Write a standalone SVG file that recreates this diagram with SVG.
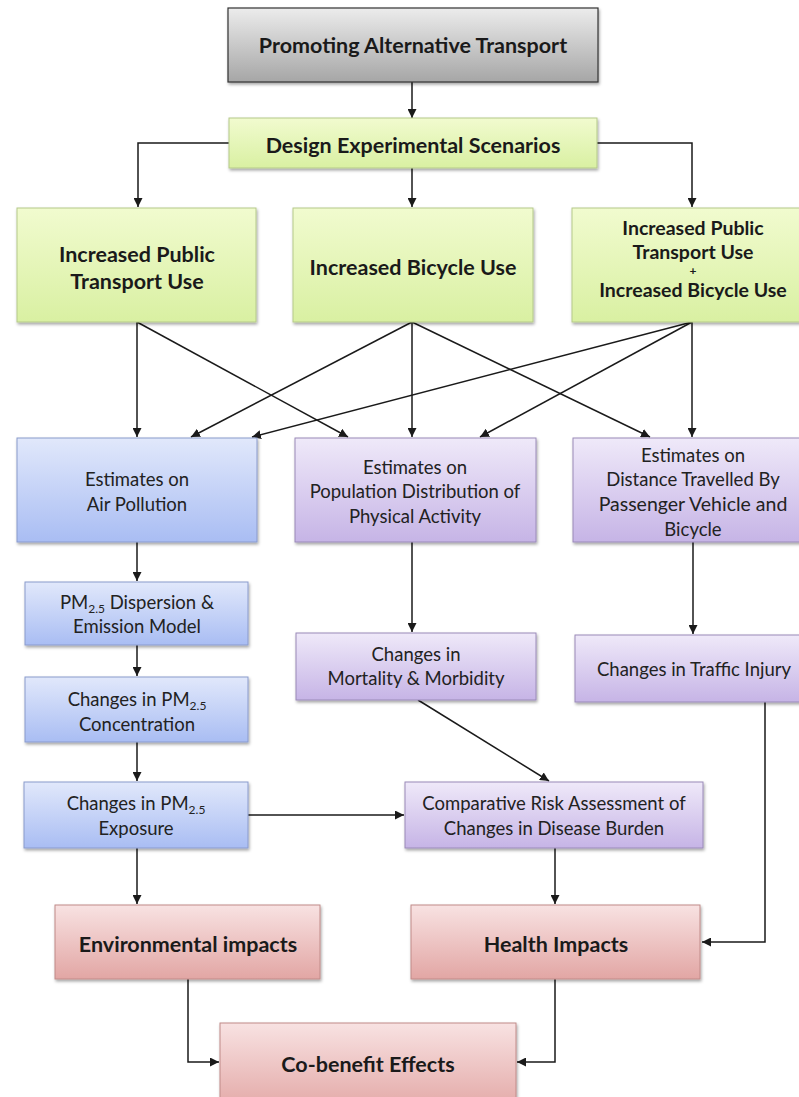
<svg xmlns="http://www.w3.org/2000/svg" width="799" height="1097" viewBox="0 0 799 1097">
<defs>
<linearGradient id="gGray" x1="0" y1="0" x2="0" y2="1"><stop offset="0" stop-color="#ececec"/><stop offset="1" stop-color="#a6a6a6"/></linearGradient>
<linearGradient id="gGreen" x1="0" y1="0" x2="0" y2="1"><stop offset="0" stop-color="#f1fbcf"/><stop offset="1" stop-color="#d9f0a2"/></linearGradient>
<linearGradient id="gBlue" x1="0" y1="0" x2="0" y2="1"><stop offset="0" stop-color="#e1e8fb"/><stop offset="1" stop-color="#a9bdf3"/></linearGradient>
<linearGradient id="gPurple" x1="0" y1="0" x2="0" y2="1"><stop offset="0" stop-color="#efe9f9"/><stop offset="1" stop-color="#c6b4e6"/></linearGradient>
<linearGradient id="gRed" x1="0" y1="0" x2="0" y2="1"><stop offset="0" stop-color="#f8e2e2"/><stop offset="1" stop-color="#e2a6a4"/></linearGradient>
<filter id="sh" x="-10%" y="-10%" width="120%" height="130%"><feDropShadow dx="1" dy="2" stdDeviation="1.5" flood-color="#000" flood-opacity="0.35"/></filter>
<marker id="ah" viewBox="0 0 10 10" refX="10" refY="5" markerWidth="9" markerHeight="9" markerUnits="userSpaceOnUse" orient="auto"><path d="M0,0 L10,5 L0,10 z" fill="#1a1a1a"/></marker>
</defs>
<style>
.gray{fill:url(#gGray);stroke:#333;stroke-width:1.2;filter:url(#sh)}
.green{fill:url(#gGreen);stroke:#b5c98a;stroke-width:1;filter:url(#sh)}
.blue{fill:url(#gBlue);stroke:#8a9bcc;stroke-width:1;filter:url(#sh)}
.purple{fill:url(#gPurple);stroke:#9a8ab8;stroke-width:1;filter:url(#sh)}
.red{fill:url(#gRed);stroke:#c08a88;stroke-width:1;filter:url(#sh)}
text{font-family:Lato,"Open Sans","Liberation Sans",sans-serif;fill:#1a1a1a;text-anchor:middle}
.b{font-weight:bold;font-size:21.5px}
.bs{font-weight:bold;font-size:19.5px}
.r{font-size:18.5px;fill:#222}
.sub{font-size:12px}
.c{fill:none;stroke:#1a1a1a;stroke-width:1.5;marker-end:url(#ah)}
</style>

<g id="connectors">
<path class="c" d="M412,82 V118"/>
<path class="c" d="M229,143 H138 V207"/>
<path class="c" d="M412,168 V207"/>
<path class="c" d="M597,143 H692 V207"/>
<path class="c" d="M137,322 V437"/>
<path class="c" d="M137,322 L348,437"/>
<path class="c" d="M412,322 L191,437"/>
<path class="c" d="M412,322 V437"/>
<path class="c" d="M412,322 L650,437"/>
<path class="c" d="M692,322 L252,437"/>
<path class="c" d="M692,322 L480,437"/>
<path class="c" d="M692,322 V437"/>
<path class="c" d="M137,542 V581"/>
<path class="c" d="M137,645 V676"/>
<path class="c" d="M137,742 V781"/>
<path class="c" d="M412,542 V632"/>
<path class="c" d="M693,542 V634"/>
<path class="c" d="M418,700 L549,781"/>
<path class="c" d="M248,815 H404"/>
<path class="c" d="M137,848 V904"/>
<path class="c" d="M555,848 V904"/>
<path class="c" d="M765,702 V942 H702"/>
<path class="c" d="M188,979 V1062 H219"/>
<path class="c" d="M555,979 V1062 H517"/>
</g>

<g id="promoting">
<rect class="gray" x="228" y="8" width="370" height="74"/>
<text class="b" x="413" y="53">Promoting Alternative Transport</text>
</g>
<g id="design">
<rect class="green" x="229" y="118" width="368" height="50"/>
<text class="b" x="413" y="153">Design Experimental Scenarios</text>
</g>
<g id="public">
<rect class="green" x="17" y="208" width="239" height="114"/>
<text class="b" x="137" y="262">Increased Public</text>
<text class="b" x="137" y="289">Transport Use</text>
</g>
<g id="bicycle">
<rect class="green" x="293" y="208" width="240" height="114"/>
<text class="b" x="413" y="275">Increased Bicycle Use</text>
</g>
<g id="combined">
<rect class="green" x="572" y="208" width="240" height="114"/>
<text class="bs" x="693" y="235">Increased Public</text>
<text class="bs" x="693" y="259">Transport Use</text>
<text class="bs" x="693" y="275" style="font-size:12px">+</text>
<text class="bs" x="693" y="297">Increased Bicycle Use</text>
</g>
<g id="air">
<rect class="blue" x="17" y="438" width="240" height="104"/>
<text class="r" x="137" y="486">Estimates on</text>
<text class="r" x="137" y="511">Air Pollution</text>
</g>
<g id="activity">
<rect class="purple" x="295" y="438" width="241" height="104"/>
<text class="r" x="415" y="474">Estimates on</text>
<text class="r" x="415" y="498">Population Distribution of</text>
<text class="r" x="415" y="523">Physical Activity</text>
</g>
<g id="distance">
<rect class="purple" x="573" y="438" width="240" height="104"/>
<text class="r" x="693" y="462">Estimates on</text>
<text class="r" x="693" y="486">Distance Travelled By</text>
<text class="r" x="693" y="511" style="font-size:19.5px">Passenger Vehicle and</text>
<text class="r" x="693" y="536">Bicycle</text>
</g>
<g id="dispersion">
<rect class="blue" x="25" y="582" width="223" height="63"/>
<text class="r" x="137" y="609">PM<tspan class="sub" dy="4">2.5</tspan><tspan dy="-4"> Dispersion &amp;</tspan></text>
<text class="r" x="137" y="633">Emission Model</text>
</g>
<g id="concentration">
<rect class="blue" x="25" y="677" width="223" height="65"/>
<text class="r" x="137" y="706">Changes in PM<tspan class="sub" dy="4">2.5</tspan></text>
<text class="r" x="137" y="731">Concentration</text>
</g>
<g id="mortality">
<rect class="purple" x="296" y="633" width="240" height="67"/>
<text class="r" x="416" y="661">Changes in</text>
<text class="r" x="416" y="685">Mortality &amp; Morbidity</text>
</g>
<g id="injury">
<rect class="purple" x="575" y="635" width="240" height="67"/>
<text class="r" x="694" y="676">Changes in Traffic Injury</text>
</g>
<g id="exposure">
<rect class="blue" x="24" y="782" width="224" height="66"/>
<text class="r" x="136" y="810">Changes in PM<tspan class="sub" dy="4">2.5</tspan></text>
<text class="r" x="136" y="835">Exposure</text>
</g>
<g id="risk">
<rect class="purple" x="405" y="782" width="298" height="66"/>
<text class="r" x="554" y="810">Comparative Risk Assessment of</text>
<text class="r" x="554" y="835">Changes in Disease Burden</text>
</g>
<g id="environmental">
<rect class="red" x="55" y="905" width="265" height="74"/>
<text class="b" x="188" y="952">Environmental impacts</text>
</g>
<g id="health">
<rect class="red" x="411" y="905" width="289" height="74"/>
<text class="b" x="556" y="952">Health Impacts</text>
</g>
<g id="cobenefit">
<rect class="red" x="220" y="1023" width="296" height="90"/>
<text class="b" x="368" y="1072">Co-benefit Effects</text>
</g>
</svg>
